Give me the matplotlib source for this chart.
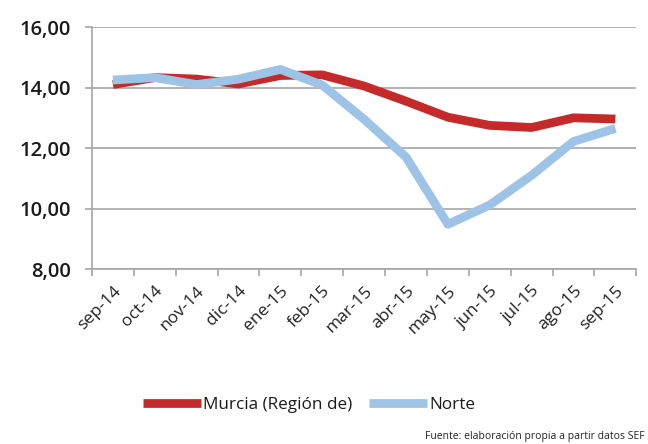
import numpy as np
import matplotlib.pyplot as plt
from matplotlib.ticker import FuncFormatter

# DATA

months = ['sep-14', 'oct-14', 'nov-14', 'dic-14', 'ene-15', 'feb-15', 'mar-15',
          'abr-15', 'may-15', 'jun-15', 'jul-15', 'ago-15', 'sep-15']
murcia = [14.10, 14.33, 14.28, 14.12, 14.40, 14.42, 14.05, 13.55, 13.02, 12.75, 12.68, 13.00, 12.96]
norte = [14.25, 14.33, 14.10, 14.28, 14.60, 14.08, 12.95, 11.70, 9.48, 10.12, 11.10, 12.22, 12.65]

plt.rcParams['font.family'] = ['Open Sans', 'DejaVu Sans']

fig = plt.figure(figsize=(6.48, 4.44), dpi=100)
ax = fig.add_axes([0.142, 0.394, 0.840, 0.545])

x = np.arange(len(months))
ax.plot(x, murcia, color='#C42A2A', lw=6.3, solid_capstyle='butt', solid_joinstyle='round',
        label='Murcia (Región de)', zorder=3)
ax.plot(x, norte, color='#9DC3E6', lw=6.3, solid_capstyle='butt', solid_joinstyle='round',
        label='Norte', zorder=4)

ax.set_xlim(-0.5, len(months) - 0.5)
ax.set_ylim(8, 16)
ax.set_yticks([8, 10, 12, 14, 16])
ax.yaxis.set_major_formatter(FuncFormatter(lambda v, p: f'{v:.2f}'.replace('.', ',')))
ax.grid(axis='y', color='#A6A6A6', lw=1.2)
ax.set_axisbelow(True)

ax.set_xticks(x)
ax.set_xticklabels(months, rotation=45, ha='right', rotation_mode='anchor', fontsize=12.5, color='#222222')
ax.set_xticks(np.arange(-0.5, len(months)), minor=True)
ax.tick_params(axis='x', which='major', length=0, pad=10)
ax.tick_params(axis='x', which='minor', length=5, color='#A6A6A6', width=1.2)
ax.tick_params(axis='y', length=5, color='#A6A6A6', width=1.2, labelsize=14.5,
               labelcolor='#1a1a1a', pad=10)
for lab in ax.get_yticklabels():
    lab.set_fontweight('semibold')

for s in ['top', 'right']:
    ax.spines[s].set_visible(False)
for s in ['left', 'bottom']:
    ax.spines[s].set_color('#A6A6A6')
    ax.spines[s].set_linewidth(1.2)

leg = fig.legend(loc='center', bbox_to_anchor=(0.477, 1 - 405 / 444), ncol=2, frameon=False,
                 fontsize=12.3, handlelength=3.4, handletextpad=0.1, columnspacing=1.0)
for t in leg.get_texts():
    t.set_color('#1a1a1a')

fig.text(0.995, 1 - 436 / 444, 'Fuente: elaboración propia a partir datos SEF',
         ha='right', va='center', fontsize=7.5, color='#222222')

fig.savefig('out.png', dpi=100)
